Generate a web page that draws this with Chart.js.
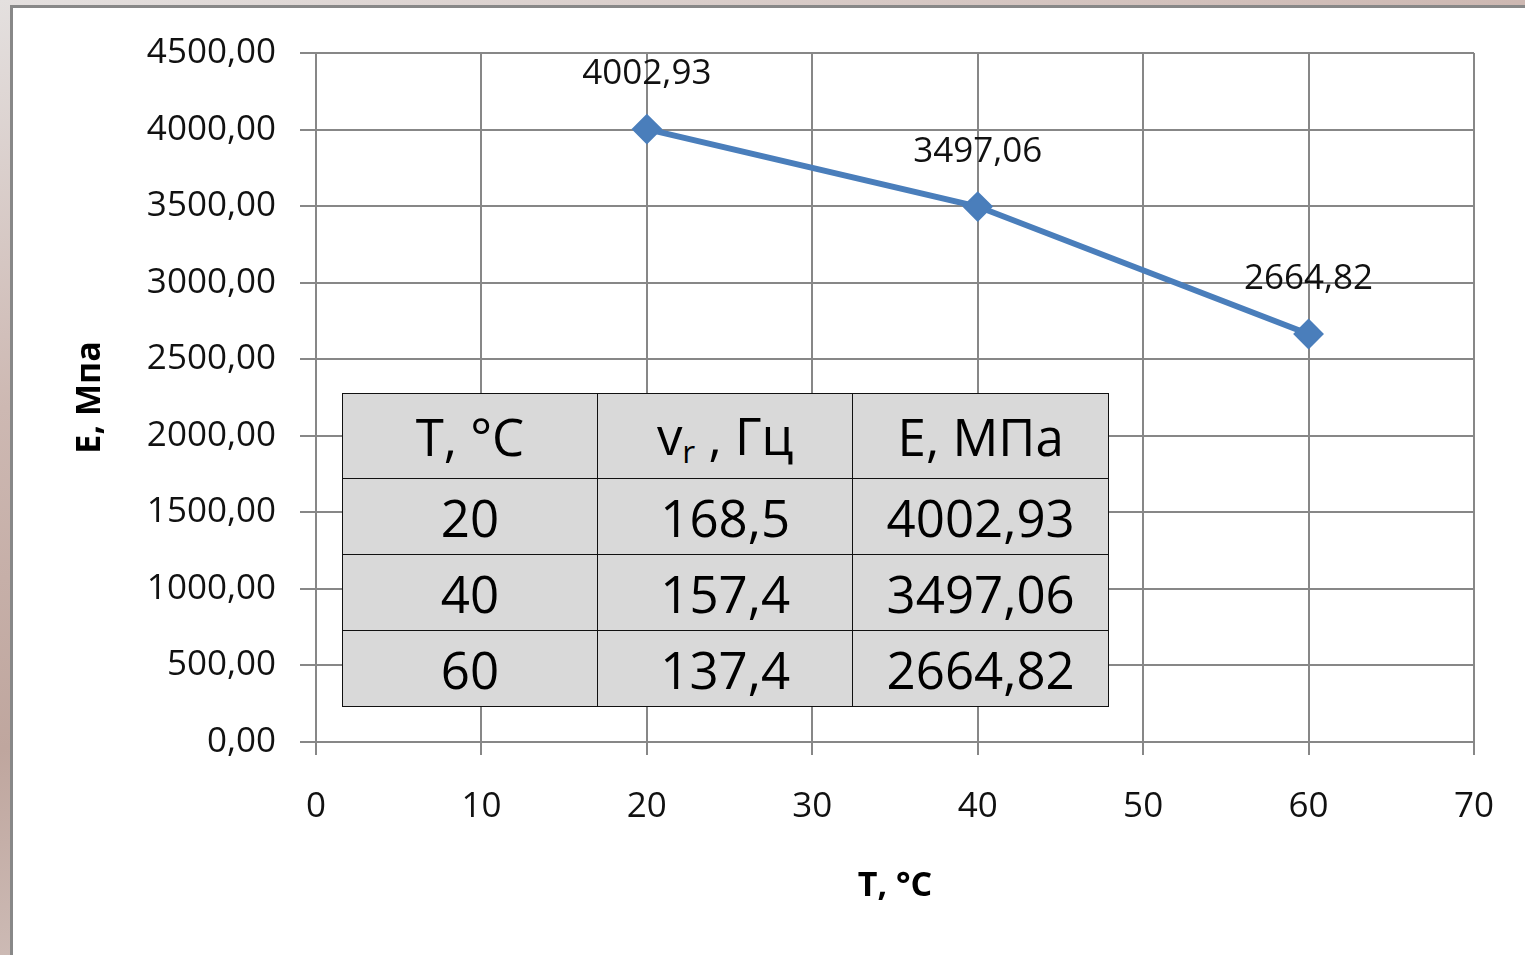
<!DOCTYPE html>
<html>
<head>
<meta charset="utf-8">
<script src="https://cdn.jsdelivr.net/npm/chart.js@4"></script>
<style>
  body {
    margin: 0;
    width: 1525px;
    height: 955px;
    overflow: hidden;
    position: relative;
    background: linear-gradient(165deg, #e4e0df 0%, #cdb8b2 30%, #bfa69e 55%, #e6e1e0 100%);
  }
  #frame {
    position: absolute;
    left: 10px; top: 5px; right: 0; bottom: 0;
    background: #fff;
    border-left: 3px solid #888;
    border-top: 3px solid #888;
  }
  #wrap {
    position: absolute;
    left: 13px; top: 8px;
    width: 1512px; height: 947px;
  }
  #tabla {
    position: absolute;
    left: 342px; top: 393px;
    width: 767px; height: 313px;
    border-collapse: collapse;
    background: #d9d9d9;
    font-family: "Open Sans", sans-serif;
    font-size: 51px;
    color: #000;
  }
  #tabla td {
    border: 1.5px solid #111;
    text-align: center;
    padding: 0;
    width: 255px;
  }
  #tabla sub { font-size: 62%; vertical-align: -0.25em; color: #000; }
</style>
</head>
<body>
<div id="frame"></div>
<div id="wrap"><canvas id="grafico" width="1512" height="947"></canvas></div>
<table id="tabla"></table>
<script>
// datos de la grafica
var temperaturas = [20, 40, 60];
var modulos = [4002.93, 3497.06, 2664.82];
var frecuencias = [168.5, 157.4, 137.4];
var cabecera = ["T, °C", "v<sub>r</sub> , Гц", "Е, МПа"];

function coma(v, dec) {
  return v.toFixed(dec).replace(".", ",");
}

// tabla encima del grafico
var tabla = document.getElementById("tabla");
var html = "<tr style='height:85px'>";
cabecera.forEach(function (c) { html += "<td>" + c + "</td>"; });
html += "</tr>";
for (var i = 0; i < temperaturas.length; i++) {
  html += "<tr style='height:76px'><td>" + temperaturas[i] + "</td><td>" +
    coma(frecuencias[i], 1) + "</td><td>" + coma(modulos[i], 2) + "</td></tr>";
}
tabla.innerHTML = html;

// etiquetas encima de los puntos
const etiquetas = {
  id: "etiquetas",
  afterDatasetsDraw(chart) {
    const ctx = chart.ctx;
    const meta = chart.getDatasetMeta(0);
    ctx.save();
    ctx.font = '35px "Open Sans"';
    ctx.fillStyle = "#111";
    ctx.textAlign = "center";
    ctx.textBaseline = "middle";
    meta.data.forEach(function (pt, i) {
      ctx.fillText(coma(modulos[i], 2), pt.x, pt.y - 55);
    });
    ctx.restore();
  },
};

var gris = "#878787";
var ctx = document.getElementById("grafico").getContext("2d");

var miGrafico = new Chart(ctx, {
  type: "line",
  data: {
    datasets: [
      {
        data: temperaturas.map(function (t, i) { return { x: t, y: modulos[i] }; }),
        borderColor: "#4a7ebb",
        backgroundColor: "#4a7ebb",
        borderWidth: 6,
        pointStyle: "rectRot",
        pointRadius: 14,
        pointBorderWidth: 2,
        tension: 0,
      },
    ],
  },
  options: {
    responsive: false,
    animation: false,
    layout: { padding: { top: 45, right: 50, left: 0, bottom: 0 } },
    plugins: {
      legend: { display: false },
      tooltip: { enabled: false },
    },
    scales: {
      x: {
        type: "linear",
        min: 0,
        max: 70,
        afterFit: function (s) { s.height = 213; },
        ticks: {
          stepSize: 10,
          padding: 31,
          color: "#111",
          font: { family: "Open Sans", size: 35 },
        },
        grid: { color: gris, lineWidth: 2, tickLength: 13, tickColor: gris },
        border: { color: gris, width: 2 },
        title: {
          display: true,
          text: "T, °C",
          color: "#000",
          font: { family: "Open Sans", size: 34, weight: "bold" },
          padding: { top: 0, bottom: 48 },
        },
      },
      y: {
        min: 0,
        max: 4500,
        afterFit: function (s) { s.width = 303; },
        ticks: {
          stepSize: 500,
          padding: 24,
          color: "#111",
          font: { family: "Open Sans", size: 35 },
          callback: function (v) { return coma(v, 2); },
        },
        grid: { color: gris, lineWidth: 2, tickLength: 16, tickColor: gris },
        border: { color: gris, width: 2 },
        title: {
          display: true,
          text: "Е, Мпа",
          color: "#000",
          font: { family: "Open Sans", size: 34, weight: "bold" },
          padding: { top: 57, bottom: 0 },
        },
      },
    },
  },
  plugins: [etiquetas],
});
</script>
</body>
</html>
